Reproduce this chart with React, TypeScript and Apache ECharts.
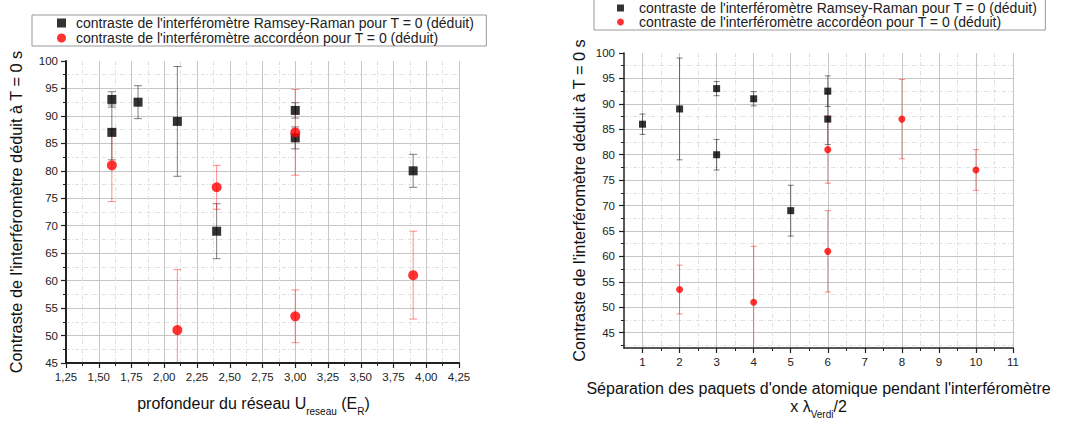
import React, { useEffect, useRef } from 'react';
import * as echarts from 'echarts';

const FONT = "'Liberation Sans', Arial, sans-serif";

const RR_NAME = "contraste de l'interféromètre Ramsey-Raman pour T = 0 (déduit)";
const AC_NAME = "contraste de l'interféromètre accordéon pour T = 0 (déduit)";

// Left chart: contrast vs lattice depth U_reseau (E_R)
const leftRamseyX = [1.6, 1.6, 1.8, 2.1, 2.4, 3.0, 3.0, 3.9];
const leftRamseyY = [93, 87, 92.5, 89, 69, 91, 86, 80];
const leftRamseyErr = [1.4, 5, 3, 10, 5, 1.4, 2, 3];
const leftAccX = [1.6, 2.1, 2.4, 3.0, 3.0, 3.9];
const leftAccY = [81, 51, 77, 87, 53.5, 61];
const leftAccErr = [6.6, 11, 4, 7.8, 4.8, 8];

// Right chart: contrast vs wave-packet separation (x lambda_Verdi / 2)
const rightRamseyX = [1, 2, 3, 3, 4, 5, 6, 6];
const rightRamseyY = [86, 89, 93, 80, 91, 69, 92.5, 87];
const rightRamseyErr = [2, 10, 1.4, 3, 1.4, 5, 3, 5];
const rightAccX = [2, 4, 6, 6, 8, 10];
const rightAccY = [53.5, 51, 81, 61, 87, 77];
const rightAccErr = [4.8, 11, 6.6, 8, 7.8, 4];

// Tick labels
const leftXTickLabels = ['1,25', '1,50', '1,75', '2,00', '2,25', '2,50', '2,75', '3,00', '3,25', '3,50', '3,75', '4,00', '4,25'];
const rightXMajor = [1, 2, 3, 4, 5, 6, 7, 8, 9, 10, 11];
const rightXMinor = [1.5, 2.5, 3.5, 4.5, 5.5, 6.5, 7.5, 8.5, 9.5, 10.5];
const rightYMajor = [45, 50, 55, 60, 65, 70, 75, 80, 85, 90, 95, 100];
const rightYMinor = [42.5, 47.5, 52.5, 57.5, 62.5, 67.5, 72.5, 77.5, 82.5, 87.5, 92.5, 97.5];

const zip3 = (xs: number[], ys: number[], es: number[]) => xs.map((x, i) => [x, ys[i], es[i]]);
const zip2 = (xs: number[], ys: number[]) => xs.map((x, i) => [x, ys[i]]);

const makeErrRender = (color: string, cap: number) => (params: any, api: any) => {
  const x = api.value(0);
  const y = api.value(1);
  const e = api.value(2);
  const hi = api.coord([x, y + e]);
  const lo = api.coord([x, y - e]);
  const style = { stroke: color, lineWidth: 1, fill: 'none' };
  return {
    type: 'group',
    children: [
      { type: 'line', shape: { x1: hi[0], y1: hi[1], x2: lo[0], y2: lo[1] }, style },
      { type: 'line', shape: { x1: hi[0] - cap, y1: hi[1], x2: hi[0] + cap, y2: hi[1] }, style },
      { type: 'line', shape: { x1: lo[0] - cap, y1: lo[1], x2: lo[0] + cap, y2: lo[1] }, style },
    ],
  };
};

const AXIS_COLOR = '#222';
const axisLineL = { show: true, onZero: false, lineStyle: { color: AXIS_COLOR, width: 2 } };
const axisLineR = { show: true, onZero: false, lineStyle: { color: AXIS_COLOR, width: 1.5 } };
const labelStyle = { color: '#222', fontSize: 11.5, fontFamily: FONT };
const majorSplit = { show: true, lineStyle: { color: '#c6c6c6', width: 1 } };
const minorSplit = { show: true, lineStyle: { color: '#e0e0e0', width: 1, type: [4, 2, 1, 2] } };
const titleRich = {
  a: { fontSize: 16, color: '#111', lineHeight: 18, fontFamily: FONT },
  s: { fontSize: 10, color: '#111', lineHeight: 10, padding: [16, 0, 0, 0], fontFamily: FONT },
};
const nameStyle = { fontSize: 16, color: '#111', fontFamily: FONT, rich: titleRich };

const ERR_BLACK = 'rgba(0,0,0,0.5)';
const ERR_RED = 'rgba(255,0,0,0.45)';

const legendText = (gap: number) => ({
  fontSize: 14,
  color: '#222',
  rich: { t: { fontSize: 14, color: '#222', lineHeight: 17, padding: [0, 0, 0, gap], fontFamily: FONT } },
});

export default function App() {
  const ref = useRef<HTMLDivElement>(null);
  useEffect(() => {
    if (!ref.current) return;
    const chart = echarts.init(ref.current, null, { renderer: 'svg' });
    const option: any = {
      animation: false,
      backgroundColor: '#fff',
      textStyle: { fontFamily: FONT },
      legend: [
        {
          left: 32,
          top: 15,
          orient: 'vertical',
          selectedMode: false,
          borderColor: '#999',
          borderWidth: 1,
          padding: [1, 12, 1, 25],
          itemGap: 1,
          itemWidth: 9,
          itemHeight: 9,
          formatter: '{t|{name}}',
          textStyle: legendText(5),
          data: [
            { name: RR_NAME, icon: 'rect' },
            { name: AC_NAME, icon: 'circle' },
          ],
        },
        {
          left: 594,
          top: -1,
          orient: 'vertical',
          selectedMode: false,
          borderColor: '#999',
          borderWidth: 1,
          padding: [2, 8, 1, 23],
          itemGap: 0,
          itemWidth: 7,
          itemHeight: 7,
          formatter: '{t|{name}}',
          textStyle: legendText(10),
          data: [
            { name: RR_NAME, icon: 'rect' },
            { name: AC_NAME, icon: 'circle' },
          ],
        },
      ],
      grid: [
        { left: 66, top: 61, width: 393, height: 302, containLabel: false },
        { left: 624, top: 53, width: 389, height: 295, containLabel: false },
      ],
      xAxis: [
        {
          gridIndex: 0,
          type: 'value',
          min: 1.25,
          max: 4.25,
          interval: 0.25,
          axisLine: axisLineL,
          axisTick: { show: true, length: 5, lineStyle: { color: AXIS_COLOR, width: 1.2 } },
          minorTick: { show: true, splitNumber: 2, length: 3, lineStyle: { color: AXIS_COLOR, width: 1 } },
          axisLabel: {
            ...labelStyle,
            margin: 8,
            formatter: (v: number) => leftXTickLabels[Math.round((v - 1.25) / 0.25)] ?? '',
          },
          splitLine: majorSplit,
          minorSplitLine: minorSplit,
          name: '{a|profondeur du réseau U}{s|reseau}{a| (E}{s|R}{a|)}',
          nameLocation: 'middle',
          nameGap: 31,
          nameTextStyle: { ...nameStyle, padding: [0, 18, 0, 0] },
        },
        {
          gridIndex: 1,
          type: 'value',
          min: 0.5,
          max: 11,
          axisLine: axisLineR,
          axisTick: { show: true, length: 5, customValues: rightXMajor, lineStyle: { color: AXIS_COLOR, width: 1.2 } },
          axisLabel: { ...labelStyle, margin: 8, customValues: rightXMajor, formatter: (v: number) => String(v) },
          splitLine: majorSplit,
          name: "{a|Séparation des paquets d'onde atomique pendant l'interféromètre}\n{a|x λ}{s|Verdi}{a|/2}",
          nameLocation: 'middle',
          nameGap: 31,
          nameTextStyle: nameStyle,
        },
        {
          gridIndex: 1,
          type: 'value',
          position: 'bottom',
          min: 0.5,
          max: 11,
          axisLine: { show: false },
          axisLabel: { show: false },
          axisTick: { show: true, length: 3, customValues: rightXMinor, lineStyle: { color: AXIS_COLOR, width: 1 } },
          splitLine: minorSplit,
        },
      ],
      yAxis: [
        {
          gridIndex: 0,
          type: 'value',
          min: 45,
          max: 100,
          interval: 5,
          axisLine: axisLineL,
          axisTick: { show: true, length: 5, lineStyle: { color: AXIS_COLOR, width: 1.2 } },
          minorTick: { show: true, splitNumber: 2, length: 3, lineStyle: { color: AXIS_COLOR, width: 1 } },
          axisLabel: { ...labelStyle, margin: 8 },
          splitLine: { ...majorSplit, showMaxLine: false },
          minorSplitLine: minorSplit,
          name: "Contraste de l'interféromètre déduit à T = 0 s",
          nameLocation: 'middle',
          nameGap: 42,
          nameTextStyle: { fontSize: 16.3, color: '#111', fontFamily: FONT },
        },
        {
          gridIndex: 1,
          type: 'value',
          min: 42,
          max: 100,
          axisLine: axisLineR,
          axisTick: { show: true, length: 5, customValues: rightYMajor, lineStyle: { color: AXIS_COLOR, width: 1.2 } },
          axisLabel: { ...labelStyle, margin: 9, customValues: rightYMajor },
          splitLine: { ...majorSplit, showMaxLine: false },
          name: "Contraste de l'interféromètre déduit à T = 0 s",
          nameLocation: 'middle',
          nameGap: 37,
          nameTextStyle: { fontSize: 16.3, color: '#111', fontFamily: FONT },
        },
        {
          gridIndex: 1,
          type: 'value',
          position: 'left',
          min: 42,
          max: 100,
          axisLine: { show: false },
          axisLabel: { show: false },
          axisTick: { show: true, length: 3, customValues: rightYMinor, lineStyle: { color: AXIS_COLOR, width: 1 } },
          splitLine: minorSplit,
        },
      ],
      series: [
        {
          type: 'custom', name: 'err-rr-left', xAxisIndex: 0, yAxisIndex: 0, clip: true, z: 2,
          encode: { x: 0, y: 1 }, renderItem: makeErrRender(ERR_BLACK, 4),
          data: zip3(leftRamseyX, leftRamseyY, leftRamseyErr),
        },
        {
          type: 'custom', name: 'err-ac-left', xAxisIndex: 0, yAxisIndex: 0, clip: true, z: 2,
          encode: { x: 0, y: 1 }, renderItem: makeErrRender(ERR_RED, 4),
          data: zip3(leftAccX, leftAccY, leftAccErr),
        },
        {
          type: 'scatter', name: RR_NAME, xAxisIndex: 0, yAxisIndex: 0, z: 3,
          symbol: 'rect', symbolSize: 9, itemStyle: { color: '#000' },
          data: zip2(leftRamseyX, leftRamseyY),
        },
        {
          type: 'scatter', name: AC_NAME, xAxisIndex: 0, yAxisIndex: 0, z: 4,
          symbol: 'circle', symbolSize: 10, itemStyle: { color: '#ff0000' },
          data: zip2(leftAccX, leftAccY),
        },
        {
          type: 'custom', name: 'err-rr-right', xAxisIndex: 1, yAxisIndex: 1, clip: true, z: 2,
          encode: { x: 0, y: 1 }, renderItem: makeErrRender(ERR_BLACK, 3),
          data: zip3(rightRamseyX, rightRamseyY, rightRamseyErr),
        },
        {
          type: 'custom', name: 'err-ac-right', xAxisIndex: 1, yAxisIndex: 1, clip: true, z: 2,
          encode: { x: 0, y: 1 }, renderItem: makeErrRender(ERR_RED, 3),
          data: zip3(rightAccX, rightAccY, rightAccErr),
        },
        {
          type: 'scatter', name: RR_NAME, xAxisIndex: 1, yAxisIndex: 1, z: 3,
          symbol: 'rect', symbolSize: 7, itemStyle: { color: '#000' },
          data: zip2(rightRamseyX, rightRamseyY),
        },
        {
          type: 'scatter', name: AC_NAME, xAxisIndex: 1, yAxisIndex: 1, z: 4,
          symbol: 'circle', symbolSize: 7, itemStyle: { color: '#ff0000' },
          data: zip2(rightAccX, rightAccY),
        },
      ],
    };
    chart.setOption(option);
    return () => chart.dispose();
  }, []);
  return (
    <div
      ref={ref}
      style={{ position: 'absolute', left: 0, top: 0, width: 1072, height: 425, background: '#fff' }}
    />
  );
}
